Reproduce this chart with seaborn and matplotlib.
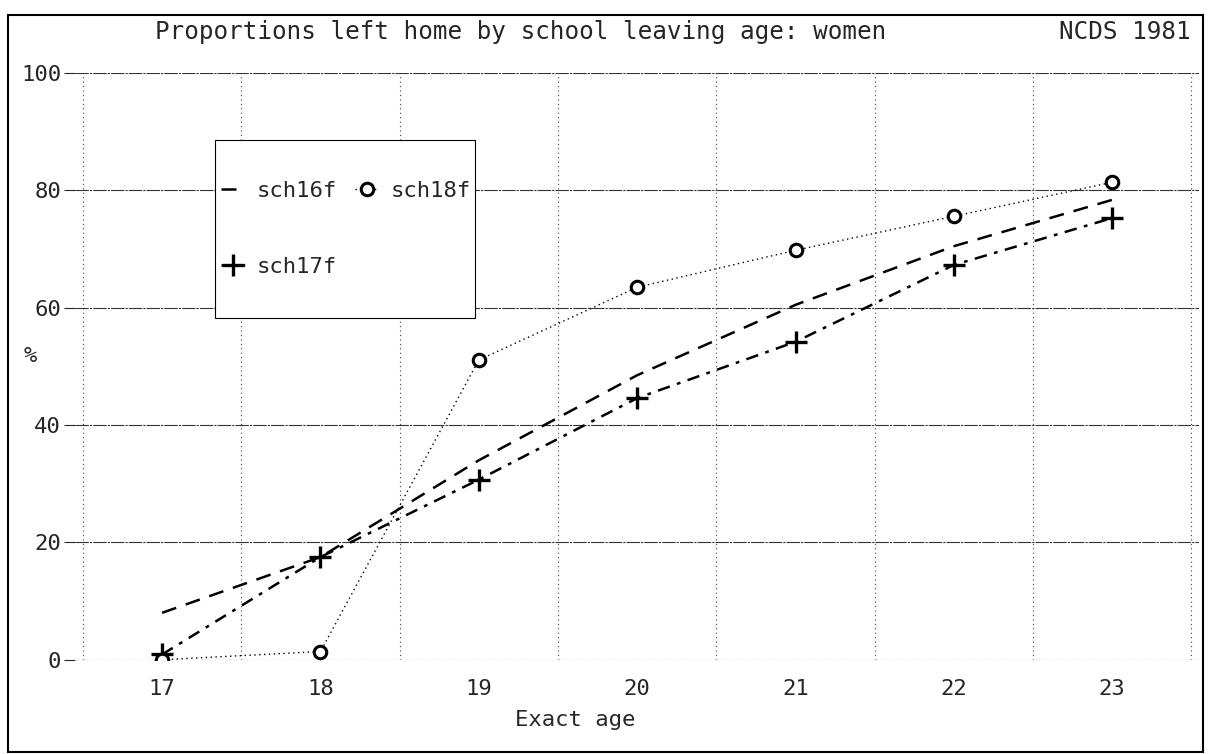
import numpy as np
import pandas as pd
import matplotlib
matplotlib.use("Agg")
import matplotlib.pyplot as plt
from matplotlib.patches import Rectangle
import seaborn as sns

# values (% left home by exact age)
ages = [17, 18, 19, 20, 21, 22, 23]
sch16f = [8.0, 17.5, 34.0, 48.5, 60.5, 70.5, 78.4]
sch17f = [0.9, 17.5, 30.7, 44.6, 54.2, 67.3, 75.3]
sch18f = [0.0, 1.4, 51.1, 63.5, 69.8, 75.6, 81.4]
yticks = [0, 20, 40, 60, 80, 100]

sns.set_style("white")
plt.rcParams['font.family'] = ['DejaVu Sans Mono', 'DejaVu Sans']

fig = plt.figure(figsize=(12.09, 7.54), dpi=100)
ax = fig.add_axes([0.062, 0.125, 0.930, 0.778])

# grid: dotted verticals between the ages, thin horizontals at the y ticks
for gx in np.arange(16.5, 24.0, 1.0):
    ax.axvline(gx, color="0.25", lw=0.8, ls=(0, (1, 3)), zorder=0)
for gy in yticks:
    ax.axhline(gy, color="0.2", lw=0.8, ls=(0, (12, 1, 2, 1)), zorder=0)

sns.lineplot(x=ages, y=sch16f, ax=ax, color="black", lw=1.8,
             linestyle=(0, (6, 4)), label="sch16f")
sns.lineplot(x=ages, y=sch17f, ax=ax, color="black", lw=1.8,
             linestyle=(0, (5, 3, 1.5, 3)), marker="+", markersize=16,
             markeredgewidth=2.4, markeredgecolor="black", label="sch17f")
sns.lineplot(x=ages, y=sch18f, ax=ax, color="black", lw=1.0,
             linestyle=(0, (1, 2.5)), marker="o", markersize=9,
             markerfacecolor="white", markeredgecolor="black",
             markeredgewidth=2.2, label="sch18f")

ax.set_xlim(16.45, 23.55)
ax.set_ylim(0, 100)
ax.set_xticks(ages)
ax.set_yticks(yticks)
ax.tick_params(axis="x", length=0, pad=14, labelsize=16)
ax.tick_params(axis="y", length=8, width=0.8, direction="out", left=True,
               labelsize=16, pad=2)
for s in ax.spines.values():
    s.set_visible(False)

ax.set_xlabel("Exact age", fontsize=16)
ax.xaxis.set_label_coords(0.445, -0.085)
ax.set_ylabel("%", fontsize=16, rotation=0)
ax.yaxis.set_label_coords(-0.04, 0.5)

# legend without its own frame; box drawn separately to match the original
leg = ax.legend(ncol=2, loc="upper left", bbox_to_anchor=(0.183, 0.760),
                bbox_transform=fig.transFigure, fontsize=16, frameon=False,
                handlelength=1.1, handletextpad=0.5, borderpad=0,
                labelspacing=2.5, columnspacing=0.8, borderaxespad=0)
leg.set_zorder(6)
ax.add_patch(Rectangle((0.178, 0.578), 0.215, 0.236,
                       transform=fig.transFigure, facecolor="white",
                       edgecolor="black", lw=0.8, zorder=5))

fig.text(0.128, 0.958, "Proportions left home by school leaving age: women",
         fontsize=17.5, ha="left", va="center")
fig.text(0.876, 0.958, "NCDS 1981", fontsize=17.5, ha="left", va="center")

fig.patches.append(Rectangle((0.007, 0.003), 0.988, 0.977,
                             transform=fig.transFigure, fill=False,
                             edgecolor="black", lw=1.5))

fig.savefig("out.png", dpi=100)
